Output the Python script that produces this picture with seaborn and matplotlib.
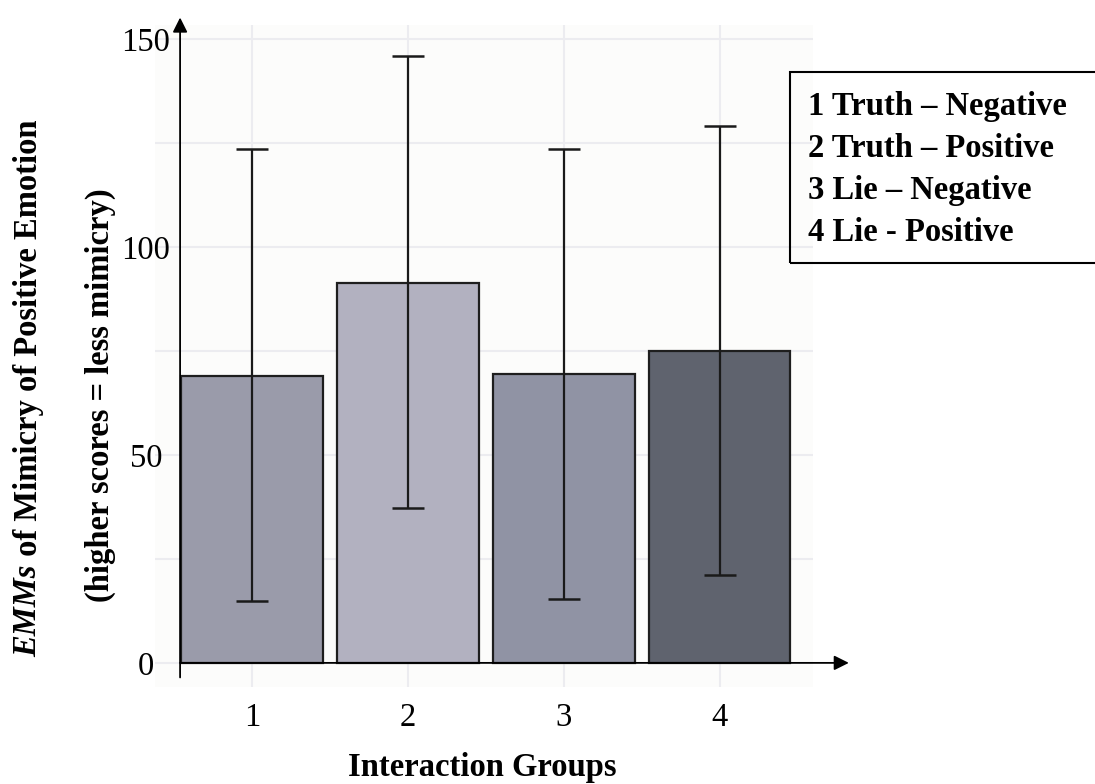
import matplotlib
matplotlib.use("Agg")
import matplotlib.pyplot as plt
import seaborn as sns
import numpy as np
import pandas as pd
from matplotlib.patches import Rectangle

# ---- data ----
groups = ["1", "2", "3", "4"]
means = [69.0, 91.4, 69.5, 75.1]
ci_lower = [14.9, 37.3, 15.4, 21.1]
ci_upper = [123.6, 146.0, 123.7, 129.2]
legend_lines = ["1 Truth \u2013 Negative", "2 Truth \u2013 Positive",
                "3 Lie \u2013 Negative", "4 Lie - Positive"]
bar_colors = ["#9a9baa", "#b2b1c0", "#9093a4", "#5f636e"]
y_ticks = [0, 50, 100, 150]

sns.set_theme(style="white")
plt.rcParams["font.family"] = ["Liberation Serif", "DejaVu Serif"]
plt.rcParams.update({"text.color": "black", "axes.labelcolor": "black",
                     "xtick.color": "black", "ytick.color": "black"})

FS = 23.5

fig = plt.figure(figsize=(10.95, 7.84), dpi=100)
ax = fig.add_axes([155/1095, (784-687)/784, 658/1095, 662/784])
ax.set_facecolor("#fcfcfb")

df = pd.DataFrame({"group": groups, "mean": means})
sns.barplot(data=df, x="group", y="mean", hue="group", palette=bar_colors,
            legend=False, width=0.91, edgecolor="#1e1e1e", linewidth=1.6,
            saturation=1, ax=ax, zorder=2)

m = np.array(means)
yerr = [m - np.array(ci_lower), np.array(ci_upper) - m]
ax.errorbar(x=np.arange(len(groups)), y=m, yerr=yerr, fmt="none",
            ecolor="#1a1a1a", elinewidth=1.6, capsize=11.5, capthick=1.8, zorder=3)

ax.set_xlim(-0.623, 3.60)
ax.set_ylim(-5.8, 153.4)
ax.set_yticks(y_ticks)
ax.set_yticks([25, 75, 125], minor=True)
ax.grid(True, which="both", color="#ececf0", lw=1.5, zorder=0)
ax.set_axisbelow(True)
for s in ax.spines.values():
    s.set_visible(False)
ax.tick_params(axis="both", which="both", length=0, labelsize=FS, colors="black")
ax.tick_params(axis="y", pad=6.5)
for lab in ax.get_yticklabels():
    lab.set_horizontalalignment("center")
ax.tick_params(axis="x", pad=11)
ax.set_xlabel("Interaction Groups", fontsize=FS, fontweight="bold")
ax.xaxis.set_label_coords(0.497, -0.1344)
ax.xaxis.label.set_verticalalignment("baseline")
ax.set_ylabel("")

# axis arrows
ax.annotate("", xy=(-0.462, 155.2), xytext=(-0.462, -3.5),
            arrowprops=dict(arrowstyle="-|>", color="black", lw=1.3, mutation_scale=22,
                            shrinkA=0, shrinkB=0),
            annotation_clip=False, zorder=4)
ax.annotate("", xy=(3.83, 0), xytext=(-0.462, 0),
            arrowprops=dict(arrowstyle="-|>", color="black", lw=1.3, mutation_scale=22,
                            shrinkA=0, shrinkB=0),
            annotation_clip=False, zorder=4)

# y label (two lines, first with italic EMMs)
t1 = fig.text(28/1095, (784-657)/784, "EMMs", rotation=90, fontsize=FS,
              fontweight="bold", fontstyle="italic", ha="left", va="center",
              rotation_mode="anchor")
fig.canvas.draw()
bb = t1.get_window_extent(renderer=fig.canvas.get_renderer())
fig.text(28/1095, ((784-657) + bb.height)/784, " of Mimicry of Positive Emotion",
         rotation=90, fontsize=FS, fontweight="bold", ha="left", va="center",
         rotation_mode="anchor")
fig.text(100/1095, (784-395)/784, "(higher scores = less mimicry)", rotation=90,
         fontsize=FS, fontweight="bold", ha="center", va="center",
         rotation_mode="anchor")

# legend box
fig.patches.append(Rectangle((790/1095, (784-263)/784), 0.4, 191/784,
                             transform=fig.transFigure, fill=False,
                             edgecolor="black", lw=1.5, clip_on=False))
for i, line in enumerate(legend_lines):
    fig.text(808/1095, (784-(107 + i*41.7))/784, line, fontsize=FS,
             fontweight="bold", ha="left", va="center")

fig.savefig("out.png", dpi=100, facecolor="white")
